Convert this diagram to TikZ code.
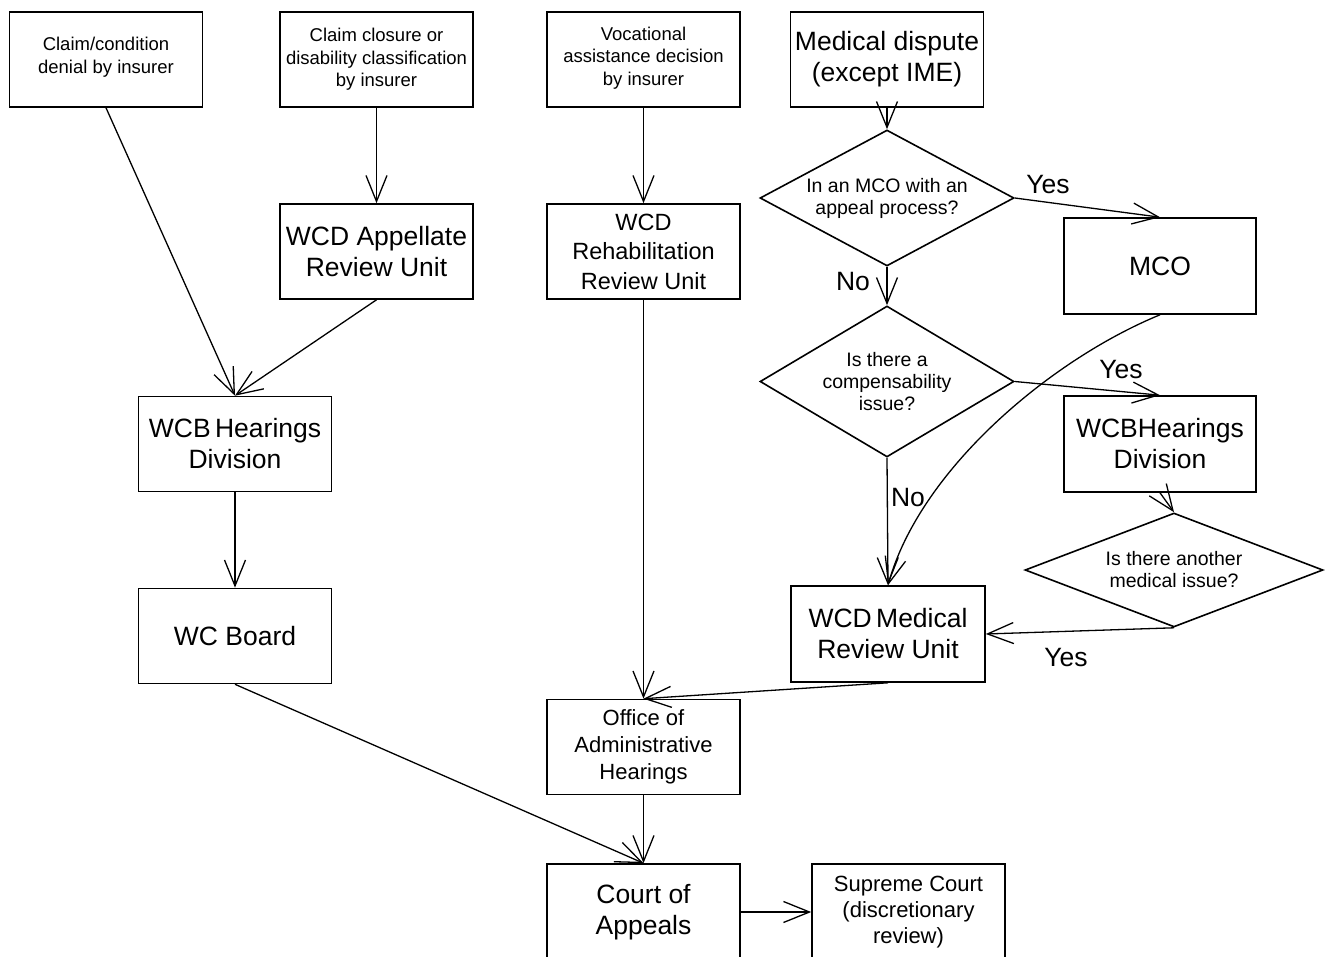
\documentclass[tikz,border=0pt]{standalone}
\usepackage{fontspec}
\setmainfont{Liberation Sans}
\usetikzlibrary{arrows.meta,shapes.geometric}
\newcommand{\ftxtS}{\fontsize{18.5}{22.5}\selectfont}
\newcommand{\ftxtM}{\fontsize{22}{27}\selectfont}
\newcommand{\ftxtL}{\fontsize{26.5}{31}\selectfont}
\newcommand{\ftxtD}{\fontsize{19.5}{22}\selectfont}
\tikzset{
  box/.style={draw, line width=1.6pt, minimum width=193pt, minimum height=95pt, align=center, inner sep=2pt},
  dia/.style={draw, shape=diamond, line width=1.6pt, align=center, inner sep=0pt, font=\ftxtD},
  conn/.style={line width=1.3pt, -{Straight Barb[length=26pt,width=21pt,line width=1.3pt]}},
  lbl/.style={font=\ftxtL, inner sep=0pt}
}
\begin{document}
\begin{tikzpicture}[x=1pt,y=-1pt]
\useasboundingbox (0,0) rectangle (1325,957);
\clip (0,0) rectangle (1325,957);
% top row
\node[box, font=\ftxtS] (A) at (106,59.5) {Claim/condition\\denial by insurer\\[-14pt]};
\node[box, font=\ftxtS] (B) at (376.5,59.5) {Claim closure or\\disability classification\\by insurer};
\node[box, font=\ftxtS] (C) at (643.5,59.5) {Vocational\\assistance decision\\by insurer\\[-16pt]};
\node[box, font=\ftxtL] (D) at (887,59.5) {Medical dispute\\(except IME)};
% second row
\node[box, font=\ftxtL] (E) at (376.5,251.5) {WCD Appellate\\Review Unit};
\node[box, font=\fontsize{23.5}{29.5}\selectfont] (F) at (643.5,251.5) {WCD\\Rehabilitation\\Review Unit};
% left column
\node[box, font=\ftxtL] (wcbh) at (235,444) {WCB\,Hearings\\Division};
\node[box, font=\ftxtL] (wcb) at (235,636) {WC Board};
% center
\node[box, font=\ftxtM] (oah) at (643.5,747) {Office of\\Administrative\\Hearings};
\node[box, font=\ftxtL, minimum height=96pt] (coa) at (643.5,912) {Court of\\Appeals};
\node[box, font=\fontsize{22}{26}\selectfont, minimum height=96pt] (sup) at (908.5,912) {Supreme Court\\(discretionary\\review)};
% right side
\node[dia, minimum width=254pt, minimum height=136pt, aspect=1.87] (d1) at (887,198) {In an MCO with an\\appeal process?};
\node[dia, minimum width=254pt, minimum height=151pt, aspect=1.68] (d2) at (887,381.5) {Is there a\\compensability\\issue?};
\node[box, font=\ftxtL, minimum width=192pt, minimum height=96pt] (mco) at (1160,266) {MCO};
\node[box, font=\ftxtL, minimum width=192pt, minimum height=96pt] (wcbh2) at (1160,444) {WCBHearings\\Division};
\node[dia, minimum width=298pt, minimum height=114pt, aspect=2.6] (d3) at (1174,570) {Is there another\\medical issue?};
\node[box, font=\ftxtL, minimum width=194pt, minimum height=96pt] (med) at (888,634) {WCD\,Medical\\Review Unit};
% labels
\node[lbl] (y1) at (1048,185) {Yes};
\node[lbl] (n1) at (853,282) {No};
\node[lbl] (y2) at (1121,370) {Yes};
\node[lbl] (n2) at (908,498) {No};
\node[lbl] (y3) at (1066,658) {Yes};
% connectors
\draw[conn] (A.south) -- (wcbh.north);
\draw[conn] (B.south) -- (E.north);
\draw[conn] (E.south) -- (wcbh.north);
\draw[conn] (wcbh.south) -- (wcb.north);
\draw[conn] (wcb.south) -- (coa.north);
\draw[conn] (C.south) -- (F.north);
\draw[conn] (F.south) -- (oah.north);
\draw[conn] (oah.south) -- (coa.north);
\draw[conn] (coa.east) -- (sup.west);
\draw[conn] (D.south) -- (d1.north);
\draw[conn] (d1.south) -- (d2.north);
\draw[conn] (d1.east) -- (mco.north);
\draw[conn] (d2.east) -- (wcbh2.north);
\draw[conn] (d2.south) -- (med.north);
\draw[conn] (mco.south) .. controls (1050,360) and (920,470) .. (med.north);
\draw[conn] (wcbh2.south) -- (d3.north);
\draw[conn] (d3.south) -- (med.east);
\draw[conn] (med.south) -- (oah.north);
\end{tikzpicture}
\end{document}
